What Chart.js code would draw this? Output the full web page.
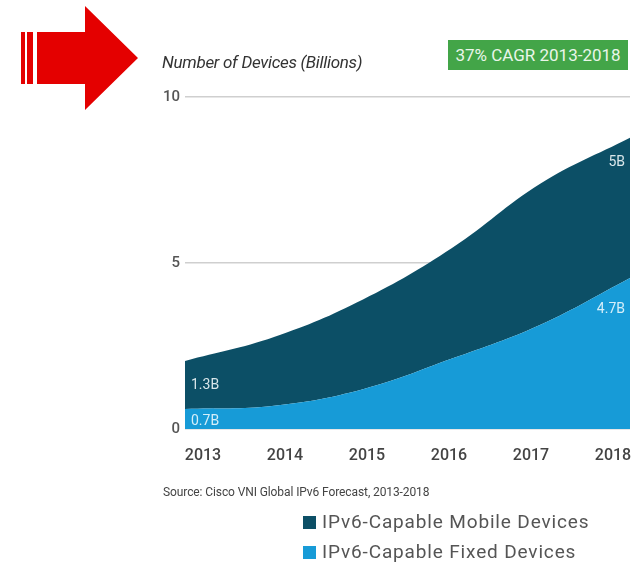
<!DOCTYPE html>
<html>
<head>
<meta charset="utf-8">
<script src="https://cdn.jsdelivr.net/npm/chart.js@4.4.1/dist/chart.umd.min.js"></script>
<style>
  body { margin: 0; background: #fff; font-family: Roboto, "Open Sans", sans-serif; }
  #wrap { position: relative; width: 635px; height: 565px; }
  canvas { position: absolute; left: 0; top: 0; }
  .yTitle { position: absolute; left: 162px; top: 52px; font-size: 17px; font-style: italic; color: #333; letter-spacing: -0.3px; }
  .cagr { position: absolute; left: 448px; top: 40px; width: 180px; height: 30px; background: #43a548; color: #eaf6ea; font-size: 17px; line-height: 30px; text-align: center; }
  .source { position: absolute; left: 163px; top: 485px; font-size: 12px; color: #444; letter-spacing: -0.1px; }
  .legend { position: absolute; left: 303px; top: 509px; font-size: 19px; color: #555; letter-spacing: 0.85px; }
  .legend div { height: 30px; line-height: 26px; }
  .legend span { display: inline-block; width: 13px; height: 13px; margin-right: 6px; vertical-align: -1px; }
</style>
</head>
<body>
<div id="wrap">
  <canvas id="devChart" width="635" height="565"></canvas>
  <div class="yTitle">Number of Devices (Billions)</div>
  <div class="cagr">37% CAGR 2013-2018</div>
  <div class="source">Source: Cisco VNI Global IPv6 Forecast, 2013-2018</div>
  <div class="legend" id="legend"></div>
</div>
<script>
const years = [2013, 2014, 2015, 2016, 2017, 2018];
const fixedDevices = [0.6, 0.7, 1.2, 2.12, 3.15, 4.55];
const mobileDevices = [1.45, 2.07, 2.7, 3.33, 4.25, 4.22];
const fixedLabels = ["0.7B", "4.7B"];
const mobileLabels = ["1.3B", "5B"];
const yTicks = [0, 5, 10];

const mobileColor = "#0c4f66";
const fixedColor = "#179bd7";

// legend, mobile listed first like the original
const legendItems = [
  ["IPv6-Capable Mobile Devices", mobileColor],
  ["IPv6-Capable Fixed Devices", fixedColor],
];
document.getElementById("legend").innerHTML = legendItems
  .map((it) => `<div><span style="background:${it[1]}"></span>${it[0]}</div>`)
  .join("");

// red arrow in the top left corner
const arrowPlugin = {
  id: "arrow",
  beforeDraw(chart) {
    const c = chart.ctx;
    c.save();
    c.fillStyle = "#e40000";
    c.fillRect(21, 32, 4, 52);
    c.fillRect(27, 32, 6, 52);
    c.beginPath();
    c.moveTo(37, 32);
    c.lineTo(85, 32);
    c.lineTo(85, 6);
    c.lineTo(138, 58);
    c.lineTo(85, 110);
    c.lineTo(85, 84);
    c.lineTo(37, 84);
    c.closePath();
    c.fill();
    c.restore();
  },
};

// value labels at both ends of the bands
const bandLabels = {
  id: "bandLabels",
  afterDatasetsDraw(chart) {
    const c = chart.ctx;
    const x = chart.scales.x;
    const y = chart.scales.y;
    const last = years.length - 1;
    c.save();
    c.font = "14px Roboto, sans-serif";
    c.textBaseline = "middle";
    const x0 = x.getPixelForValue(0) + 6;
    const x1 = x.getPixelForValue(last) - 5;
    // left side: centred in each band
    c.textAlign = "left";
    c.fillStyle = "#d5eef9";
    c.fillText(fixedLabels[0], x0, (y.getPixelForValue(0) + y.getPixelForValue(fixedDevices[0])) / 2 + 2);
    c.fillStyle = "#d9e6ea";
    c.fillText(mobileLabels[0], x0,
      (y.getPixelForValue(fixedDevices[0]) + y.getPixelForValue(fixedDevices[0] + mobileDevices[0])) / 2);
    // right side: near the top of each band
    c.textAlign = "right";
    c.fillStyle = "#d5eef9";
    c.fillText(fixedLabels[1], x1, y.getPixelForValue(fixedDevices[last]) + 32);
    c.fillStyle = "#d9e6ea";
    c.fillText(mobileLabels[1], x1, y.getPixelForValue(fixedDevices[last] + mobileDevices[last]) + 25);
    c.restore();
  },
};

// years sit a little inside the ends of the area
const labelMin = 2013 - 18 / 82;
const labelMax = 2018 + 17 / 82;

new Chart(document.getElementById("devChart"), {
  type: "line",
  data: {
    labels: years.map(String),
    datasets: [
      {
        label: "IPv6-Capable Fixed Devices",
        data: fixedDevices,
        backgroundColor: fixedColor,
        borderWidth: 0,
        fill: "origin",
      },
      {
        label: "IPv6-Capable Mobile Devices",
        data: mobileDevices,
        backgroundColor: mobileColor,
        borderWidth: 0,
        fill: "-1",
      },
    ],
  },
  options: {
    responsive: false,
    animation: false,
    layout: { padding: { top: 97, right: 5, bottom: 96, left: 0 } },
    elements: {
      line: { tension: 0.4 },
      point: { radius: 0 },
    },
    scales: {
      x: { display: false, offset: false },
      x2: {
        type: "linear",
        position: "bottom",
        min: labelMin,
        max: labelMax,
        grid: { display: false, drawTicks: false },
        border: { display: false },
        afterBuildTicks: (s) => { s.ticks = years.map((v) => ({ value: v })); },
        afterFit: (s) => { s.height = 40; s.paddingLeft = 0; s.paddingRight = 0; },
        ticks: {
          padding: 17,
          color: "#444",
          font: { family: "Roboto", size: 16, weight: "500" },
          callback: (v) => String(v),
        },
      },
      y: {
        stacked: true,
        min: 0,
        max: 10,
        afterBuildTicks: (s) => { s.ticks = yTicks.map((v) => ({ value: v })); },
        afterFit: (s) => { s.width = 185; s.paddingTop = 0; s.paddingBottom = 0; },
        grid: { color: "#cfcfcf", lineWidth: 1.5, drawTicks: false },
        border: { display: false },
        ticks: {
          padding: 5,
          color: "#555",
          font: { family: "Roboto", size: 15, weight: "500" },
        },
      },
    },
    plugins: {
      legend: { display: false },
      tooltip: { enabled: false },
    },
  },
  plugins: [arrowPlugin, bandLabels],
});
</script>
</body>
</html>
